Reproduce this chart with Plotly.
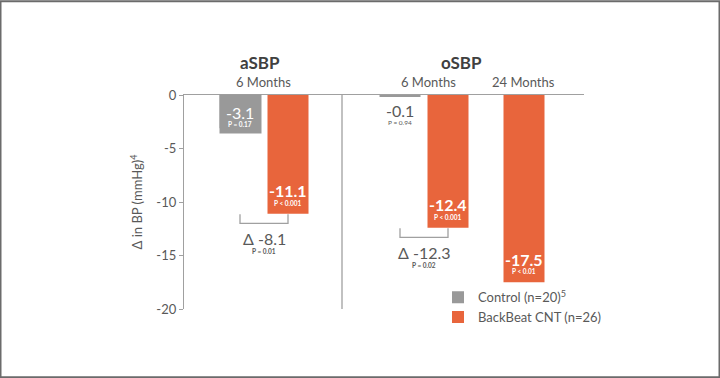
import plotly.graph_objects as go

# ---- data ----
groups = ["aSBP", "oSBP"]
periods = ["6 Months", "6 Months", "24 Months"]
control_vals = [-3.1, -0.1]
control_p = ["P = 0.17", "P = 0.94"]
bb_vals = [-11.1, -12.4, -17.5]
bb_p = ["P &lt; 0.001", "P &lt; 0.001", "P &lt; 0.01"]
delta_vals = [-8.1, -12.3]
delta_p = ["P = 0.01", "P = 0.02"]
y_ticks = [0, -5, -10, -15, -20]
legend_names = ["Control (n=20)<sup>5</sup>", "BackBeat CNT (n=26)"]

# ---- layout positions (axis units) ----
control_x = [1.4, 5.4]
bb_x = [2.6, 6.6, 8.5]
period_x = [1.98, 6.1, 8.48]
group_x = [1.9, 6.93]
sep_x = 3.95
bar_w = 1.025

GREY = "#999999"
ORANGE = "#E8653C"
TXT = "#595959"
LINE = "#A0A0A0"
FONT = "Lato"


def txt(x, y, text, size, color, yshift, bold=False):
    return dict(x=x, y=y, xref="x", yref="y", yanchor="middle", yshift=yshift,
                text=f"<b>{text}</b>" if bold else text, showarrow=False,
                font=dict(size=size, color=color))


fig = go.Figure()
fig.add_trace(go.Bar(x=control_x, y=control_vals, width=bar_w, marker_color=GREY,
                     marker_line_width=0, name=legend_names[0]))
fig.add_trace(go.Bar(x=bb_x, y=bb_vals, width=bar_w, marker_color=ORANGE,
                     marker_line_width=0, name=legend_names[1]))

ann = []
# group titles
for g, gx in zip(groups, group_x):
    ann.append(dict(x=gx, y=1, xref="x", yref="paper", yanchor="middle", yshift=33,
                    text=f"<b>{g}</b>", showarrow=False, font=dict(size=17, color="#404040")))
for p, px in zip(periods, period_x):
    ann.append(dict(x=px, y=1, xref="x", yref="paper", yanchor="middle", yshift=13,
                    text=p, showarrow=False, font=dict(size=13, color=TXT)))

# control labels (first one sits in a grey label box)
ann.append(dict(x=control_x[0], y=0, xref="x", yref="y", yanchor="top", yshift=1.5,
                text=" ", showarrow=False, bgcolor=GREY, width=41, height=38, borderpad=0,
                font=dict(size=10)))
ann.append(txt(control_x[0], 0, str(control_vals[0]), 16, "white", -17.5))
ann.append(txt(control_x[0], 0, control_p[0], 6.5, "white", -29, bold=True))
ann.append(txt(control_x[1], 0, str(control_vals[1]), 16, TXT, -15.5))
ann.append(txt(control_x[1], 0, control_p[1], 6.5, TXT, -27.5))

# BackBeat labels
for v, p, bx in zip(bb_vals, bb_p, bb_x):
    ann.append(txt(bx, v, str(v), 16, "white", 23, bold=True))
    ann.append(txt(bx, v, p, 6.5, "white", 10.5, bold=True))

# brackets and deltas
shapes = []
for i, (d, p) in enumerate(zip(delta_vals, delta_p)):
    x0, x1 = control_x[i], bb_x[i]
    ytop = bb_vals[i] - 0.05
    ybot = bb_vals[i] - 0.9
    shapes.append(dict(type="path", xref="x", yref="y",
                       path=f"M{x0},{ytop} L{x0},{ybot} L{x1},{ybot} L{x1},{ytop}",
                       line=dict(color=LINE, width=1.3)))
    xm = (x0 + x1) / 2
    ann.append(txt(xm, ybot, f"\u0394 {d}", 16, TXT, -15))
    ann.append(txt(xm, ybot, p, 6.5, TXT, -28.5, bold=True))

# separator
shapes.append(dict(type="line", xref="x", yref="y", x0=sep_x, x1=sep_x, y0=0, y1=-20,
                   line=dict(color=LINE, width=1.3)))
# outer frame
shapes.append(dict(type="rect", xref="paper", yref="paper",
                   x0=-183.5 / 400, x1=1 + 135.5 / 400, y0=-68.5 / 214.5, y1=1 + 94 / 214.5,
                   line=dict(color="#6b6b6b", width=2)))

fig.update_layout(
    width=720, height=378,
    margin=dict(l=184, r=136, t=94.5, b=69),
    paper_bgcolor="white", plot_bgcolor="white",
    font=dict(family=FONT, size=13, color=TXT),
    barmode="overlay",
    showlegend=True,
    legend=dict(x=0.635, y=0.125, xanchor="left", yanchor="top", bgcolor="rgba(0,0,0,0)",
                font=dict(size=13, color=TXT), tracegroupgap=0, itemwidth=30),
    annotations=ann, shapes=shapes,
    xaxis=dict(range=[0, 10], side="top", showline=True, linecolor=LINE, linewidth=1.3,
               showticklabels=False, ticks="", showgrid=False, zeroline=False, fixedrange=True),
    yaxis=dict(range=[-20, 0], tickvals=y_ticks, ticktext=[str(t) for t in y_ticks],
               showline=True, linecolor=LINE, linewidth=1.3, ticks="outside", ticklen=4,
               tickcolor=LINE, showgrid=False, zeroline=False,
               title=dict(text="\u0394 in BP (mmHg)<sup>4</sup>", standoff=10,
                          font=dict(size=13, color=TXT)),
               tickfont=dict(size=13, color=TXT)),
)

fig.write_html("out.html", config={"displayModeBar": False},
               post_script="document.body.style.margin='0';")
